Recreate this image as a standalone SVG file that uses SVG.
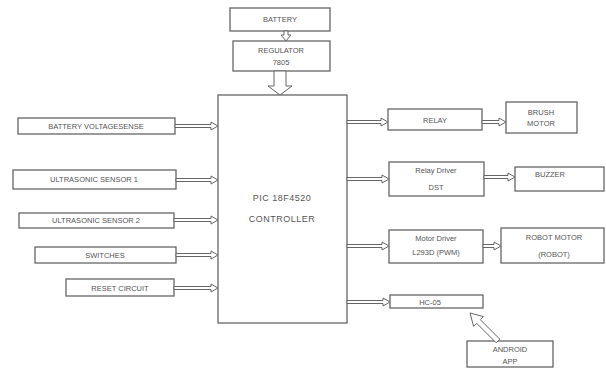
<svg xmlns="http://www.w3.org/2000/svg" width="606" height="373" viewBox="0 0 606 373">
<style>
.box{fill:#fff;stroke:#666;stroke-width:1.3}
.t{font-family:"Liberation Sans",Arial,sans-serif;font-size:7.5px;fill:#555;text-anchor:middle}
.tb{font-family:"Liberation Sans",Arial,sans-serif;font-size:9px;fill:#555;text-anchor:middle;letter-spacing:0.5px}
.ar{fill:#fff;stroke:#666;stroke-width:1}
</style>
<rect width="606" height="373" fill="#fff"/>
<g id="battery"><rect class="box" x="230" y="8" width="100" height="23"/><text class="t" x="280" y="22">BATTERY</text></g>
<g id="regulator"><rect class="box" x="233" y="41" width="97" height="30"/><text class="t" x="281" y="53">REGULATOR</text><text class="t" x="281" y="65">7805</text></g>
<g id="controller"><rect class="box" x="218" y="95" width="129" height="228"/><text class="tb" x="282" y="201">PIC 18F4520</text><text class="tb" x="282" y="222">CONTROLLER</text></g>
<g id="vsense"><rect class="box" x="18" y="118" width="157" height="16"/><text class="t" x="96" y="128.5">BATTERY VOLTAGESENSE</text></g>
<g id="us1"><rect class="box" x="13" y="170" width="163" height="19"/><text class="t" x="94" y="182">ULTRASONIC SENSOR 1</text></g>
<g id="us2"><rect class="box" x="19" y="213" width="155" height="15"/><text class="t" x="96" y="223">ULTRASONIC SENSOR 2</text></g>
<g id="switches"><rect class="box" x="35" y="247" width="141" height="16"/><text class="t" x="105" y="258">SWITCHES</text></g>
<g id="reset"><rect class="box" x="66" y="279" width="108" height="17"/><text class="t" x="120" y="290.5">RESET CIRCUIT</text></g>
<g id="relay"><rect class="box" x="388" y="109" width="94" height="21"/><text class="t" x="435" y="122.5">RELAY</text></g>
<g id="brush"><rect class="box" x="506" y="102" width="71" height="31"/><text class="t" x="541" y="115">BRUSH</text><text class="t" x="541" y="126">MOTOR</text></g>
<g id="relaydriver"><rect class="box" x="389" y="162" width="95" height="34"/><text class="t" x="436" y="173">Relay Driver</text><text class="t" x="436" y="190">DST</text></g>
<g id="buzzer"><rect class="box" x="515" y="167" width="89" height="24"/><text class="t" x="550" y="177">BUZZER</text></g>
<g id="motordriver"><rect class="box" x="389" y="230" width="94" height="33"/><text class="t" x="436" y="241">Motor Driver</text><text class="t" x="436" y="255">L293D (PWM)</text></g>
<g id="robotmotor"><rect class="box" x="501" y="228" width="103" height="35"/><text class="t" x="554" y="240">ROBOT MOTOR</text><text class="t" x="554" y="257">(ROBOT)</text></g>
<g id="hc05"><rect class="box" x="390" y="295" width="93" height="13"/><text class="t" x="430" y="304.5">HC-05</text></g>
<g id="android"><rect class="box" x="467" y="341" width="86" height="26"/><text class="t" x="510" y="352">ANDROID</text><text class="t" x="510" y="364">APP</text></g>
<g id="connectors">
<polygon class="ar" points="284,31 288,31 288,35 291,35 286,41 281,35 284,35"/>
<polygon class="ar" points="274,71 286,71 286,86 292,86 280,95 268,86 274,86"/>
<polygon class="ar" points="175,124.5 211,124.5 211,122 218,126 211,130 211,127.5 175,127.5"/>
<polygon class="ar" points="176,178.5 211,178.5 211,176 218,180 211,184 211,181.5 176,181.5"/>
<polygon class="ar" points="174,218.5 211,218.5 211,216 218,220 211,224 211,221.5 174,221.5"/>
<polygon class="ar" points="176,253.5 211,253.5 211,251 218,255 211,259 211,256.5 176,256.5"/>
<polygon class="ar" points="174,286.5 211,286.5 211,284 218,288 211,292 211,289.5 174,289.5"/>
<polygon class="ar" points="347,120.5 381,120.5 381,118 388,122 381,126 381,123.5 347,123.5"/>
<polygon class="ar" points="482,120.5 499,120.5 499,118 506,122 499,126 499,123.5 482,123.5"/>
<polygon class="ar" points="347,177.5 382,177.5 382,175 389,179 382,183 382,180.5 347,180.5"/>
<polygon class="ar" points="484,175.5 508,175.5 508,173 515,177 508,181 508,178.5 484,178.5"/>
<polygon class="ar" points="347,244.5 382,244.5 382,242 389,246 382,250 382,247.5 347,247.5"/>
<polygon class="ar" points="483,244.5 494,244.5 494,242 501,246 494,250 494,247.5 483,247.5"/>
<polygon class="ar" points="347,300.5 383,300.5 383,298 390,302 383,306 383,303.5 347,303.5"/>
<polygon class="ar" points="499.8,339.2 480.3,319.7 483.4,316.6 470,313 473.6,326.4 476.7,323.3 496.2,342.8"/>
</g>
</svg>
